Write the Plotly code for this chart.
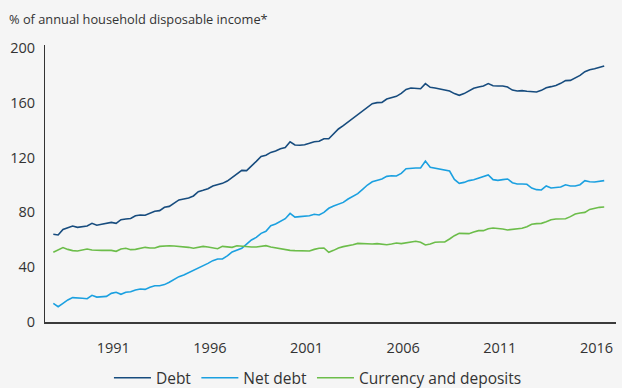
import plotly.graph_objects as go

# Quarterly observations, % of annual household disposable income
debt = [64.0, 63.5, 67.6, 69.1, 70.1, 69.1, 69.6, 70.1, 72.0, 70.6,
        71.3, 72.0, 72.7, 72.0, 74.7, 75.2, 75.6, 77.6, 78.1, 77.9,
        79.3, 80.8, 81.3, 83.7, 84.4, 86.6, 89.1, 89.8, 90.5, 92.0,
        95.1, 96.1, 97.3, 99.3, 100.2, 101.2, 102.9, 105.6, 107.8, 110.7,
        110.5, 113.6, 117.3, 120.9, 121.7, 123.8, 124.8, 126.5, 127.3, 131.6,
        129.2, 129.0, 129.4, 130.4, 131.6, 131.9, 133.8, 133.8, 137.0, 140.9,
        143.3, 146.0, 148.4, 151.3, 154.3, 157.2, 159.4, 160.1, 160.3, 162.8,
        163.5, 164.7, 166.9, 169.8, 170.8, 170.6, 170.3, 174.0, 171.3, 170.8,
        170.1, 168.9, 168.6, 166.7, 165.5, 166.7, 168.9, 170.6, 171.5, 172.3,
        174.0, 172.5, 172.3, 172.3, 171.5, 169.3, 168.6, 168.9, 168.4, 168.1,
        167.9, 169.1, 171.0, 171.8, 172.7, 174.2, 176.2, 176.4, 178.3, 180.0,
        182.7, 184.2, 184.9, 185.9, 186.9]

net_debt = [13.6, 11.2, 13.6, 16.1, 17.8, 17.3, 17.3, 17.0, 19.5, 18.2,
            18.2, 18.7, 20.9, 21.7, 20.2, 21.7, 22.1, 23.4, 24.1, 23.8,
            25.3, 26.5, 26.5, 27.3, 29.0, 31.1, 33.1, 34.3, 36.0, 37.5,
            38.9, 40.9, 42.8, 44.8, 46.0, 46.0, 48.2, 51.1, 52.6, 53.8,
            56.9, 59.9, 61.8, 64.7, 66.2, 70.3, 71.5, 73.2, 75.4, 79.3,
            76.6, 76.9, 77.1, 77.6, 78.6, 78.1, 80.0, 83.0, 84.7, 86.1,
            87.3, 89.8, 92.0, 93.7, 96.8, 100.0, 102.4, 103.6, 104.4, 106.3,
            106.8, 106.6, 108.5, 111.9, 112.4, 112.4, 112.4, 117.5, 113.0, 112.4,
            111.7, 110.7, 110.2, 104.1, 101.2, 101.9, 103.2, 103.9, 105.1, 105.8,
            107.3, 103.9, 103.4, 103.9, 104.4, 101.7, 100.7, 100.7, 100.5, 97.8,
            96.6, 96.4, 99.3, 97.8, 98.1, 98.5, 100.2, 99.3, 99.3, 100.2,
            103.2, 102.4, 102.2, 102.7, 103.2]

currency = [50.9, 52.6, 54.3, 53.0, 52.1, 51.8, 52.3, 53.3, 52.6, 52.3,
            52.3, 52.3, 52.3, 51.6, 53.3, 53.8, 52.8, 53.0, 53.5, 54.5,
            54.0, 54.0, 55.2, 55.7, 55.7, 55.5, 55.2, 55.0, 54.5, 53.8,
            54.5, 55.2, 54.7, 54.0, 53.5, 55.2, 54.7, 54.5, 55.7, 55.2,
            55.0, 54.7, 54.7, 55.2, 55.7, 54.7, 54.0, 53.5, 52.8, 52.3,
            52.1, 52.1, 52.1, 51.8, 53.0, 53.8, 54.0, 50.9, 52.3, 54.0,
            55.0, 55.5, 56.4, 57.4, 57.2, 56.7, 56.9, 57.2, 56.7, 56.4,
            56.9, 57.7, 57.2, 57.9, 58.6, 58.9, 58.2, 56.2, 56.9, 58.2,
            58.4, 58.4, 60.6, 63.0, 64.7, 64.5, 64.5, 65.7, 66.7, 66.7,
            68.1, 68.6, 68.4, 67.9, 67.2, 67.6, 68.1, 68.4, 69.6, 71.3,
            71.8, 72.0, 73.2, 74.7, 75.2, 75.2, 75.4, 76.9, 78.8, 79.6,
            80.0, 82.2, 83.2, 83.7, 83.9]

start_year = 1987.9
quarters = [start_year + 0.25 * i for i in range(len(debt))]

year_ticks = [1991, 1996, 2001, 2006, 2011, 2016]
year_labels = [str(y) for y in year_ticks]
y_ticks = [0, 40, 80, 120, 160, 200]

series_names = ["Debt", "Net debt", "Currency and deposits"]
series_colors = ["#174c7e", "#1ba0e0", "#6cbd4a"]

FONT = "Open Sans"
TXT = "#333333"

fig = go.Figure()
for name, vals, col in zip(series_names, [debt, net_debt, currency], series_colors):
    fig.add_trace(go.Scatter(x=quarters, y=vals, mode="lines", name=name,
                             line=dict(color=col, width=1.6)))

fig.update_layout(
    width=622, height=388,
    margin=dict(l=45, r=6, t=45, b=66, autoexpand=False),
    paper_bgcolor="#f5f5f5", plot_bgcolor="#f5f5f5",
    font=dict(family=FONT, size=14, color=TXT),
    title=dict(text="% of annual household disposable income*",
               x=9 / 622, xanchor="left", xref="container",
               y=1 - 20 / 388, yanchor="middle", yref="container",
               font=dict(family=FONT, size=12.8, color=TXT)),
    showlegend=True,
    legend=dict(orientation="h", x=0.478, xanchor="center",
                y=-0.203, yanchor="middle", itemwidth=37,
                font=dict(family=FONT, size=15.5, color=TXT),
                bgcolor="rgba(0,0,0,0)"),
)
fig.update_xaxes(range=[1987.47, 2017.01], tickvals=year_ticks, ticktext=year_labels,
                 showgrid=False, zeroline=False, showline=True, automargin=False,
                 linecolor="#3a3a3a", linewidth=1.5, ticks="",
                 tickfont=dict(family=FONT, size=14.5, color=TXT),
                 ticklabelstandoff=12)
fig.update_yaxes(range=[0, 202.2], tickvals=y_ticks,
                 showgrid=False, zeroline=False, showline=True, automargin=False,
                 linecolor="#333333", linewidth=1, ticks="",
                 tickfont=dict(family=FONT, size=14.5, color=TXT),
                 ticklabelstandoff=6)

fig.write_html(
    "out.html",
    config={"displayModeBar": False},
    post_script="document.body.style.margin='0';document.body.style.padding='0';"
                "document.body.style.background='#f5f5f5';",
)
